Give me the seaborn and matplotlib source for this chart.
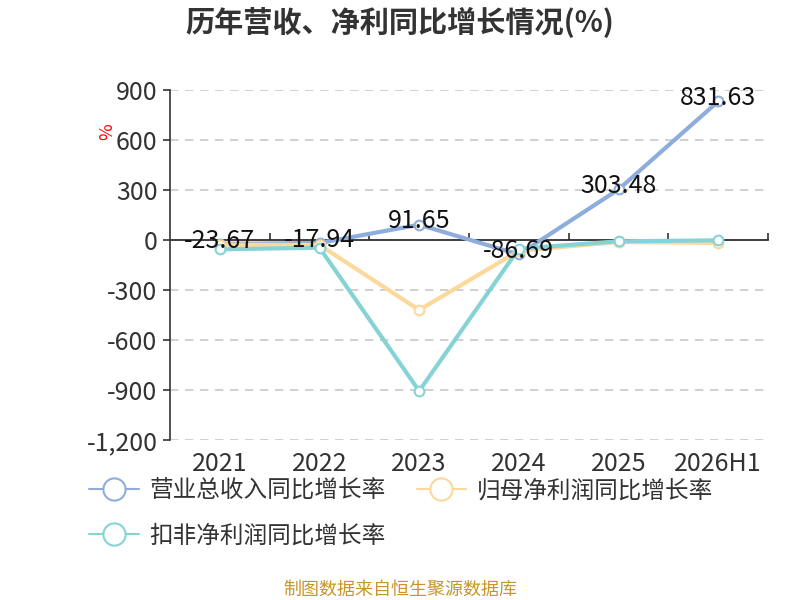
import matplotlib
matplotlib.use("Agg")
import matplotlib.pyplot as plt
import matplotlib.ticker as mticker
from matplotlib.lines import Line2D
import seaborn as sns
import pandas as pd

years = ["2021", "2022", "2023", "2024", "2025", "2026H1"]
revenue_growth = [-23.67, -17.94, 91.65, -86.69, 303.48, 831.63]
net_profit_growth = [-28.0, -30.0, -420.0, -65.0, -12.0, -18.0]
deducted_growth = [-56.0, -46.0, -906.0, -52.0, -8.0, -2.0]
series_names = ["营业总收入同比增长率", "归母净利润同比增长率", "扣非净利润同比增长率"]
colors = ["#8eaddc", "#fdd89b", "#86d3d5"]
y_ticks = [900, 600, 300, 0, -300, -600, -900, -1200]

sns.set_theme(style="white")
plt.rcParams["font.family"] = ["Noto Sans CJK SC", "DejaVu Sans"]
plt.rcParams["axes.unicode_minus"] = False

df = pd.DataFrame({
    "year": years * 3,
    "value": revenue_growth + net_profit_growth + deducted_growth,
    "series": [series_names[0]] * 6 + [series_names[1]] * 6 + [series_names[2]] * 6,
})

fig = plt.figure(figsize=(8, 6), dpi=100)
ax = fig.add_axes([0.2125, 0.2667, 0.7475, 0.5833])

# dashed grid behind the lines
for t in y_ticks:
    if t != 0:
        ax.axhline(t, color="#c8c8c8", lw=1.2, ls=(0, (5, 4)), zorder=0)

for name, col in zip(series_names, colors):
    sub = df[df["series"] == name]
    sns.lineplot(data=sub, x="year", y="value", ax=ax, color=col, lw=3,
                 marker="o", markersize=7, markerfacecolor="white",
                 markeredgecolor=col, markeredgewidth=1.5, sort=False,
                 legend=False, zorder=3)

for i, v in enumerate(revenue_growth):
    ax.text(i, v + 20, f"{v:.2f}", ha="center", va="center", fontsize=18,
            color="#111111", zorder=5)

ax.set_xlim(-0.5, 5.5)
ax.set_ylim(-1200, 900)
ax.set_yticks(y_ticks)
ax.yaxis.set_major_formatter(mticker.FuncFormatter(lambda v, p: f"{int(v):,}"))
ax.tick_params(axis="y", labelsize=18, labelcolor="#333333", length=5,
               color="#333333", width=1.2, left=True, pad=4)
ax.tick_params(axis="x", labelsize=18, labelcolor="#333333", length=0, pad=8)
ax.set_xlabel("")
ax.set_ylabel("")
for s in ["top", "right", "bottom"]:
    ax.spines[s].set_visible(False)
ax.spines["left"].set_color("#333333")
ax.spines["left"].set_linewidth(1.2)

# zero axis line with category boundary ticks
zero_pos = (0 - (-1200)) / 2100
sec = ax.secondary_xaxis(zero_pos)
sec.set_xticks([0.5, 1.5, 2.5, 3.5, 4.5, 5.5])
sec.set_xticklabels([])
sec.tick_params(direction="out", length=5, color="#333333", width=1.2)
sec.spines["bottom"].set_color("#333333")
sec.spines["bottom"].set_linewidth(1.5)

fig.text(0.5, 0.962, "历年营收、净利同比增长情况(%)", ha="center", va="center",
         fontsize=21, fontweight="bold", color="#333333")
fig.text(0.134, 0.78, "%", ha="center", va="center", rotation=90,
         color="red", fontsize=13)
fig.text(0.5, 0.018, "制图数据来自恒生聚源数据库", ha="center", va="center",
         fontsize=13, color="#c9952a")

handles = [Line2D([0], [0], color=c, lw=1.5, marker="o", markersize=16,
                  markerfacecolor="white", markeredgecolor=c, markeredgewidth=1.5)
           for c in colors]
order = [0, 2, 1]
fig.legend([handles[i] for i in order], [series_names[i] for i in order],
           loc="upper left", bbox_to_anchor=(0.1, 0.217),
           ncol=2, frameon=False, fontsize=17, handlelength=2.1,
           handletextpad=0.45, columnspacing=1.3, labelspacing=0.95,
           labelcolor="#333333", borderaxespad=0)

fig.savefig("out.png", dpi=100)
